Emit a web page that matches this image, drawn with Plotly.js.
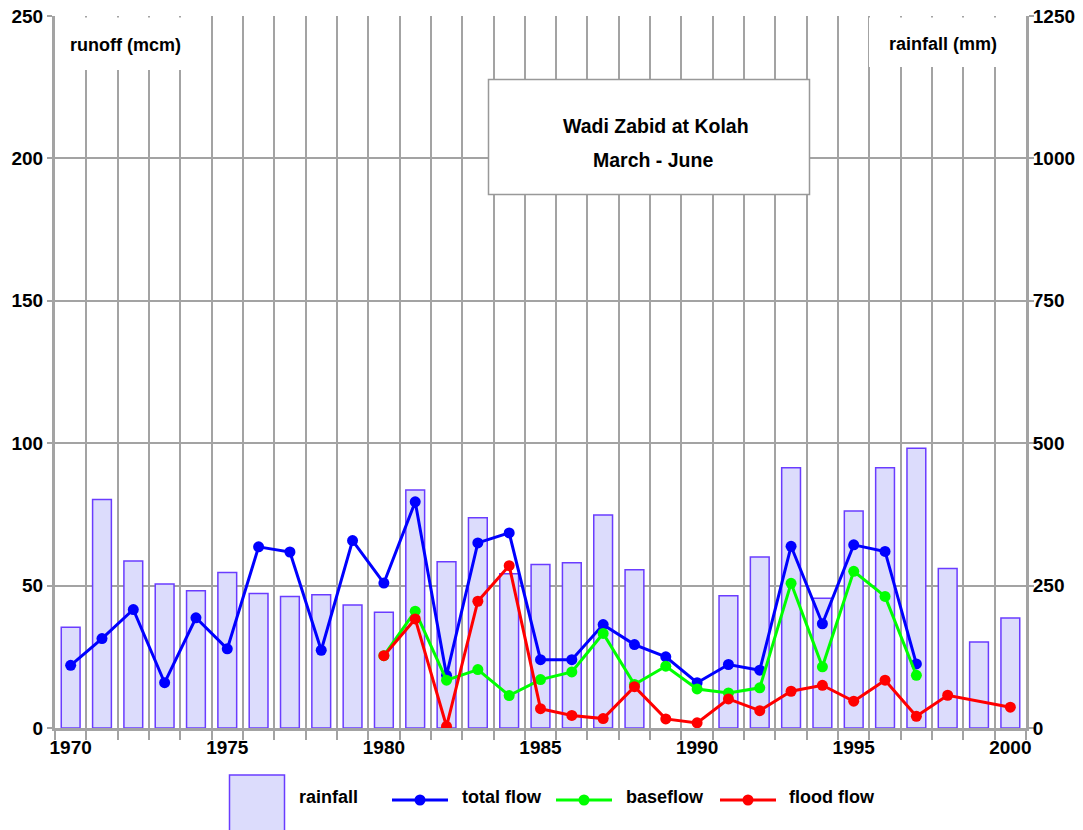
<!DOCTYPE html>
<html>
<head>
<meta charset="utf-8">
<script src="https://cdn.plot.ly/plotly-3.0.1.min.js"></script>
<style>html,body{margin:0;padding:0;background:#fff;}#chart{width:1083px;height:830px;}</style>
</head>
<body>
<div id="chart"></div>
<script>
// ---- data ----
const years = [1970,1971,1972,1973,1974,1975,1976,1977,1978,1979,1980,1981,1982,1983,1984,1985,1986,1987,1988,1989,1990,1991,1992,1993,1994,1995,1996,1997,1998,1999,2000];
const rainfall = [177,401,293,253,241,273,236,231,234,216,203,418,292,369,271,287,290,374,278,null,null,232,300,457,228,381,457,491,280,151,193];
const totalFlow = [22.0,31.4,41.6,15.9,38.7,27.8,63.6,61.8,27.3,65.8,50.9,79.4,18.5,65.0,68.5,24.0,24.0,36.3,29.3,25.0,15.9,22.3,20.3,63.8,36.6,64.3,62.0,22.5,null,null,null];
const baseflow = [null,null,null,null,null,null,null,null,null,null,25.4,41.0,16.8,20.5,11.4,17.0,19.7,33.2,15.3,21.7,13.7,12.3,14.1,50.8,21.5,55.0,46.2,18.5,null,null,null];
const floodFlow = [null,null,null,null,null,null,null,null,null,null,25.4,38.3,0.6,44.5,57.0,6.8,4.4,3.3,14.5,3.2,1.8,10.2,6.1,12.9,15.0,9.4,16.8,4.1,11.5,null,7.3];
const xTickVals = [1970,1975,1980,1985,1990,1995,2000];
const runoffTicks = [0,50,100,150,200,250];
const rainTicks = [0,250,500,750,1000,1250];
const seriesNames = ['rainfall','total flow','baseflow','flood flow'];
const titleLines = ['Wadi Zabid at Kolah','March - June'];

// ---- styling ----
const FONT = 'Liberation Sans, Arial, Helvetica, sans-serif';
const GRID = '#a3a3a3';
const W = 1083, H = 830;
const M = {l:55, r:57, t:16, b:102};
const PW = W - M.l - M.r, PH = H - M.t - M.b;
const px = x => (x - M.l) / PW;          // pixel -> paper x
const py = y => (H - M.b - y) / PH;       // pixel -> paper y

const BAR_FILL = '#dcdcfc', BAR_LINE = '#6a3cff';
const BLUE = '#0000ff', GREEN = '#00ff00', RED = '#ff0000';

const traces = [
  {type:'bar', x:years, y:rainfall, name:seriesNames[0], yaxis:'y', width:0.6,
   marker:{color:BAR_FILL, line:{color:BAR_LINE, width:1.5}}, hoverinfo:'x+y'},
  {type:'scatter', mode:'lines+markers', x:years, y:totalFlow, name:seriesNames[1], yaxis:'y2',
   line:{color:BLUE, width:3}, marker:{color:BLUE, size:11}},
  {type:'scatter', mode:'lines+markers', x:years, y:baseflow, name:seriesNames[2], yaxis:'y2',
   line:{color:GREEN, width:3}, marker:{color:GREEN, size:11}},
  {type:'scatter', mode:'lines+markers', x:years, y:floodFlow, name:seriesNames[3], yaxis:'y2', connectgaps:true,
   line:{color:RED, width:3}, marker:{color:RED, size:11}}
];

const tickFont = {family:FONT, size:19, color:'#000', weight:700};
const annFont = {family:FONT, size:18, color:'#000', weight:700};
const titleFont = {family:FONT, size:19.5, color:'#000', weight:700};

const shapes = [
  // label boxes (cover gridlines)
  {type:'rect', xref:'paper', yref:'paper', x0:px(56.5), x1:px(196), y0:py(17.5), y1:py(70), fillcolor:'#fff', line:{width:0}, layer:'above'},
  {type:'rect', xref:'paper', yref:'paper', x0:px(869), x1:px(1024.5), y0:py(17.5), y1:py(67), fillcolor:'#fff', line:{width:0}, layer:'above'},
  // title box
  {type:'rect', xref:'paper', yref:'paper', x0:px(488.5), x1:px(809.5), y0:py(79.5), y1:py(194.5), fillcolor:'#fff', line:{color:'#999', width:1.5}, layer:'above'},
  // legend: rainfall swatch
  {type:'rect', xref:'paper', yref:'paper', x0:px(229.5), x1:px(284.5), y0:py(775), y1:py(832), fillcolor:BAR_FILL, line:{color:BAR_LINE, width:1.5}, layer:'above'},
];
const legendLines = [
  {x0:392, x1:448, m:420, c:BLUE},
  {x0:556, x1:612, m:584, c:GREEN},
  {x0:720, x1:776, m:748, c:RED}
];
legendLines.forEach(l => {
  shapes.push({type:'line', xref:'paper', yref:'paper', x0:px(l.x0), x1:px(l.x1), y0:py(800), y1:py(800), line:{color:l.c, width:3}, layer:'above'});
  shapes.push({type:'circle', xref:'paper', yref:'paper', xsizemode:'pixel', ysizemode:'pixel',
    xanchor:px(l.m), yanchor:py(800), x0:-5.5, x1:5.5, y0:-5.5, y1:5.5, fillcolor:l.c, line:{color:l.c, width:0}, layer:'above'});
});

const annotations = [
  {xref:'paper', yref:'paper', x:px(125), y:py(45), text:'runoff (mcm)', showarrow:false, font:annFont, xanchor:'center', yanchor:'middle'},
  {xref:'paper', yref:'paper', x:px(943), y:py(44), text:'rainfall (mm)', showarrow:false, font:annFont, xanchor:'center', yanchor:'middle'},
  {xref:'paper', yref:'paper', x:px(656), y:py(126), text:titleLines[0], showarrow:false, font:titleFont, xanchor:'center', yanchor:'middle'},
  {xref:'paper', yref:'paper', x:px(653), y:py(160), text:titleLines[1], showarrow:false, font:titleFont, xanchor:'center', yanchor:'middle'},
  {xref:'paper', yref:'paper', x:px(297), y:py(797), text:seriesNames[0], showarrow:false, font:annFont, xanchor:'left', yanchor:'middle'},
  {xref:'paper', yref:'paper', x:px(460), y:py(797), text:seriesNames[1], showarrow:false, font:annFont, xanchor:'left', yanchor:'middle'},
  {xref:'paper', yref:'paper', x:px(624), y:py(797), text:seriesNames[2], showarrow:false, font:annFont, xanchor:'left', yanchor:'middle'},
  {xref:'paper', yref:'paper', x:px(787), y:py(797), text:seriesNames[3], showarrow:false, font:annFont, xanchor:'left', yanchor:'middle'}
];

const layout = {
  width:W, height:H, margin:M, paper_bgcolor:'#fff', plot_bgcolor:'#fff',
  showlegend:false, bargap:0,
  font:{family:FONT, color:'#000'},
  xaxis:{range:[1969.5,2000.5], tickmode:'array', tickvals:xTickVals, ticktext:xTickVals.map(String),
    ticks:'', showgrid:false, zeroline:false, showline:true, linecolor:GRID, linewidth:3,
    tickfont:tickFont,
    minor:{tick0:1969.5, dtick:1, showgrid:true, gridcolor:GRID, gridwidth:2, ticks:'outside', ticklen:9, tickcolor:GRID, tickwidth:2}},
  yaxis:{range:[0,1250], tickmode:'array', tickvals:rainTicks, ticktext:rainTicks.map(String), side:'right',
    showgrid:true, gridcolor:GRID, gridwidth:2, zeroline:false, showline:true, linecolor:GRID, linewidth:3,
    ticks:'outside', ticklen:5, tickcolor:GRID, tickwidth:2, tickfont:tickFont, ticklabelstandoff:-5},
  yaxis2:{range:[0,250], tickmode:'array', tickvals:runoffTicks, ticktext:runoffTicks.map(String), side:'left', overlaying:'y',
    showgrid:false, zeroline:false, showline:true, linecolor:GRID, linewidth:3,
    ticks:'outside', ticklen:5, tickcolor:GRID, tickwidth:2, tickfont:tickFont},
  shapes:shapes, annotations:annotations
};

Plotly.newPlot('chart', traces, layout, {displayModeBar:false, staticPlot:true});
</script>
</body>
</html>
